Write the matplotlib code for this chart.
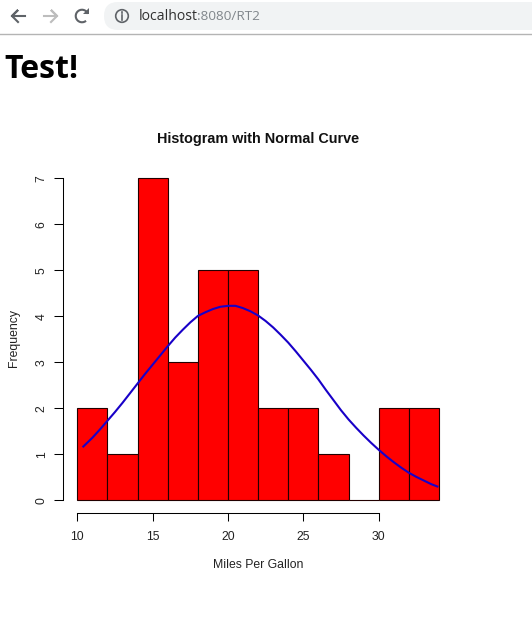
import matplotlib
matplotlib.use('Agg')
import matplotlib.pyplot as plt
from matplotlib.patches import Arc, Circle, FancyBboxPatch

# histograma
bin_edges = [10, 12, 14, 16, 18, 20, 22, 24, 26, 28, 30, 32, 34]
frequencies = [2, 1, 7, 3, 5, 5, 2, 2, 1, 0, 2, 2]

# curva
curve_x = [10.4, 11, 11.5, 12, 12.5, 13, 13.5, 14, 14.5, 15, 15.5, 16, 16.5, 17, 17.5, 18,
           18.5, 19, 19.5, 20, 20.5, 21, 21.5, 22, 22.5, 23, 23.5, 24, 24.5, 25, 25.5, 26,
           26.5, 27, 27.5, 28, 28.5, 29, 29.5, 30, 30.5, 31, 31.5, 32, 32.5, 33, 33.5, 33.9]
curve_y = [1.17, 1.36, 1.54, 1.73, 1.92, 2.12, 2.33, 2.54, 2.75, 2.95, 3.15, 3.35, 3.54, 3.71, 3.87, 4.01,
           4.09, 4.16, 4.21, 4.23, 4.23, 4.18, 4.11, 4.02, 3.90, 3.76, 3.60, 3.43, 3.24, 3.04, 2.84, 2.63,
           2.40, 2.18, 1.96, 1.76, 1.58, 1.41, 1.25, 1.10, 0.96, 0.83, 0.71, 0.60, 0.51, 0.43, 0.35, 0.30]

x_ticks = [10, 15, 20, 25, 30]
y_ticks = [0, 1, 2, 3, 4, 5, 6, 7]

W, H = 532, 623
plt.rcParams['font.family'] = ['Liberation Sans', 'DejaVu Sans']
fig = plt.figure(figsize=(W / 100, H / 100), dpi=100)

# area do grafico em pixels
left, right, top, bottom = 77.3, 438.9, 178.5, 500.3
ax = fig.add_axes([left / W, 1 - bottom / H, (right - left) / W, (bottom - top) / H])
ax.set_xlim(10, 34)
ax.set_ylim(0, 7)
ax.patch.set_alpha(0)

ax.bar(bin_edges[:-1], frequencies, width=2, align='edge', color='red',
       edgecolor='#220000', linewidth=0.8, clip_on=False)
ax.plot(curve_x, curve_y, color='#1800c8', linewidth=1.5, clip_on=False)

for s in ['top', 'right']:
    ax.spines[s].set_visible(False)
ax.spines['left'].set_position(('outward', 10.1))
ax.spines['bottom'].set_position(('outward', 9.4))
ax.spines['left'].set_bounds(0, 7)
ax.spines['bottom'].set_bounds(10, 30)
ax.spines['left'].set_linewidth(0.75)
ax.spines['bottom'].set_linewidth(0.75)

ax.set_xticks(x_ticks)
ax.set_yticks(y_ticks)
ax.tick_params(axis='x', length=5.6, width=0.75, labelsize=8.8, pad=7.2, labelcolor='#222222')
ax.tick_params(axis='y', length=6.4, width=0.75, labelsize=8.8, pad=4.8, labelcolor='#222222')
plt.setp(ax.get_yticklabels(), rotation=90, va='center')

# camada em pixels: navegador e textos
ov = fig.add_axes([0, 0, 1, 1], zorder=-1)
ov.set_xlim(0, W)
ov.set_ylim(H, 0)
ov.axis('off')

ov.text(258, 138.5, 'Histogram with Normal Curve', fontsize=10.4, fontweight='bold',
        ha='center', va='center', color='#111111')
ov.text(258, 565, 'Miles Per Gallon', fontsize=8.8, ha='center', va='center', color='#222222')
ov.text(14, 338, 'Frequency', fontsize=8.8, rotation=90, ha='center', va='center', color='#222222')

ov.text(4, 70, 'Test!', fontsize=23, fontweight='bold', family=['Open Sans', 'DejaVu Sans'],
        ha='left', va='center', color='black')

# barra do navegador
ov.add_patch(FancyBboxPatch((118, 2), 430, 28, boxstyle='round,pad=0,rounding_size=14',
                            facecolor='#f1f3f4', edgecolor='none'))
ov.add_patch(FancyBboxPatch((104, 2), 60, 28, boxstyle='round,pad=0,rounding_size=14',
                            facecolor='#f1f3f4', edgecolor='none'))
ov.plot([0, W], [34.3, 34.3], color='#b4b4b4', linewidth=1)

gray = '#5f6368'
light = '#bdbdbd'
ov.plot([25, 12, 18, 12, 18], [16, 16, 10, 16, 22], color=gray, linewidth=1.5, solid_joinstyle='miter')
ov.plot([44, 57, 51, 57, 51], [16, 16, 10, 16, 22], color=light, linewidth=1.5, solid_joinstyle='miter')
ov.add_patch(Arc((82, 16), 12.5, 12.5, theta1=50, theta2=340, color=gray, linewidth=1.5))
ov.fill([83, 89, 89], [14, 14, 8], color=gray, linewidth=0)

ov.add_patch(Circle((122, 16), 6.3, facecolor='none', edgecolor=gray, linewidth=1.2))
ov.plot([122, 122], [15, 20], color=gray, linewidth=1.2)
ov.plot([122, 122], [11.5, 13], color=gray, linewidth=1.2)

ov.text(138.5, 16.5, 'localhost', fontsize=10.1, family=['Open Sans', 'DejaVu Sans'],
        ha='left', va='center', color='#303030')
ov.text(197.5, 16.5, ':8080/RT2', fontsize=9.7, family=['Open Sans', 'DejaVu Sans'],
        ha='left', va='center', color='#80868b')

fig.savefig('out.png', dpi=100)
